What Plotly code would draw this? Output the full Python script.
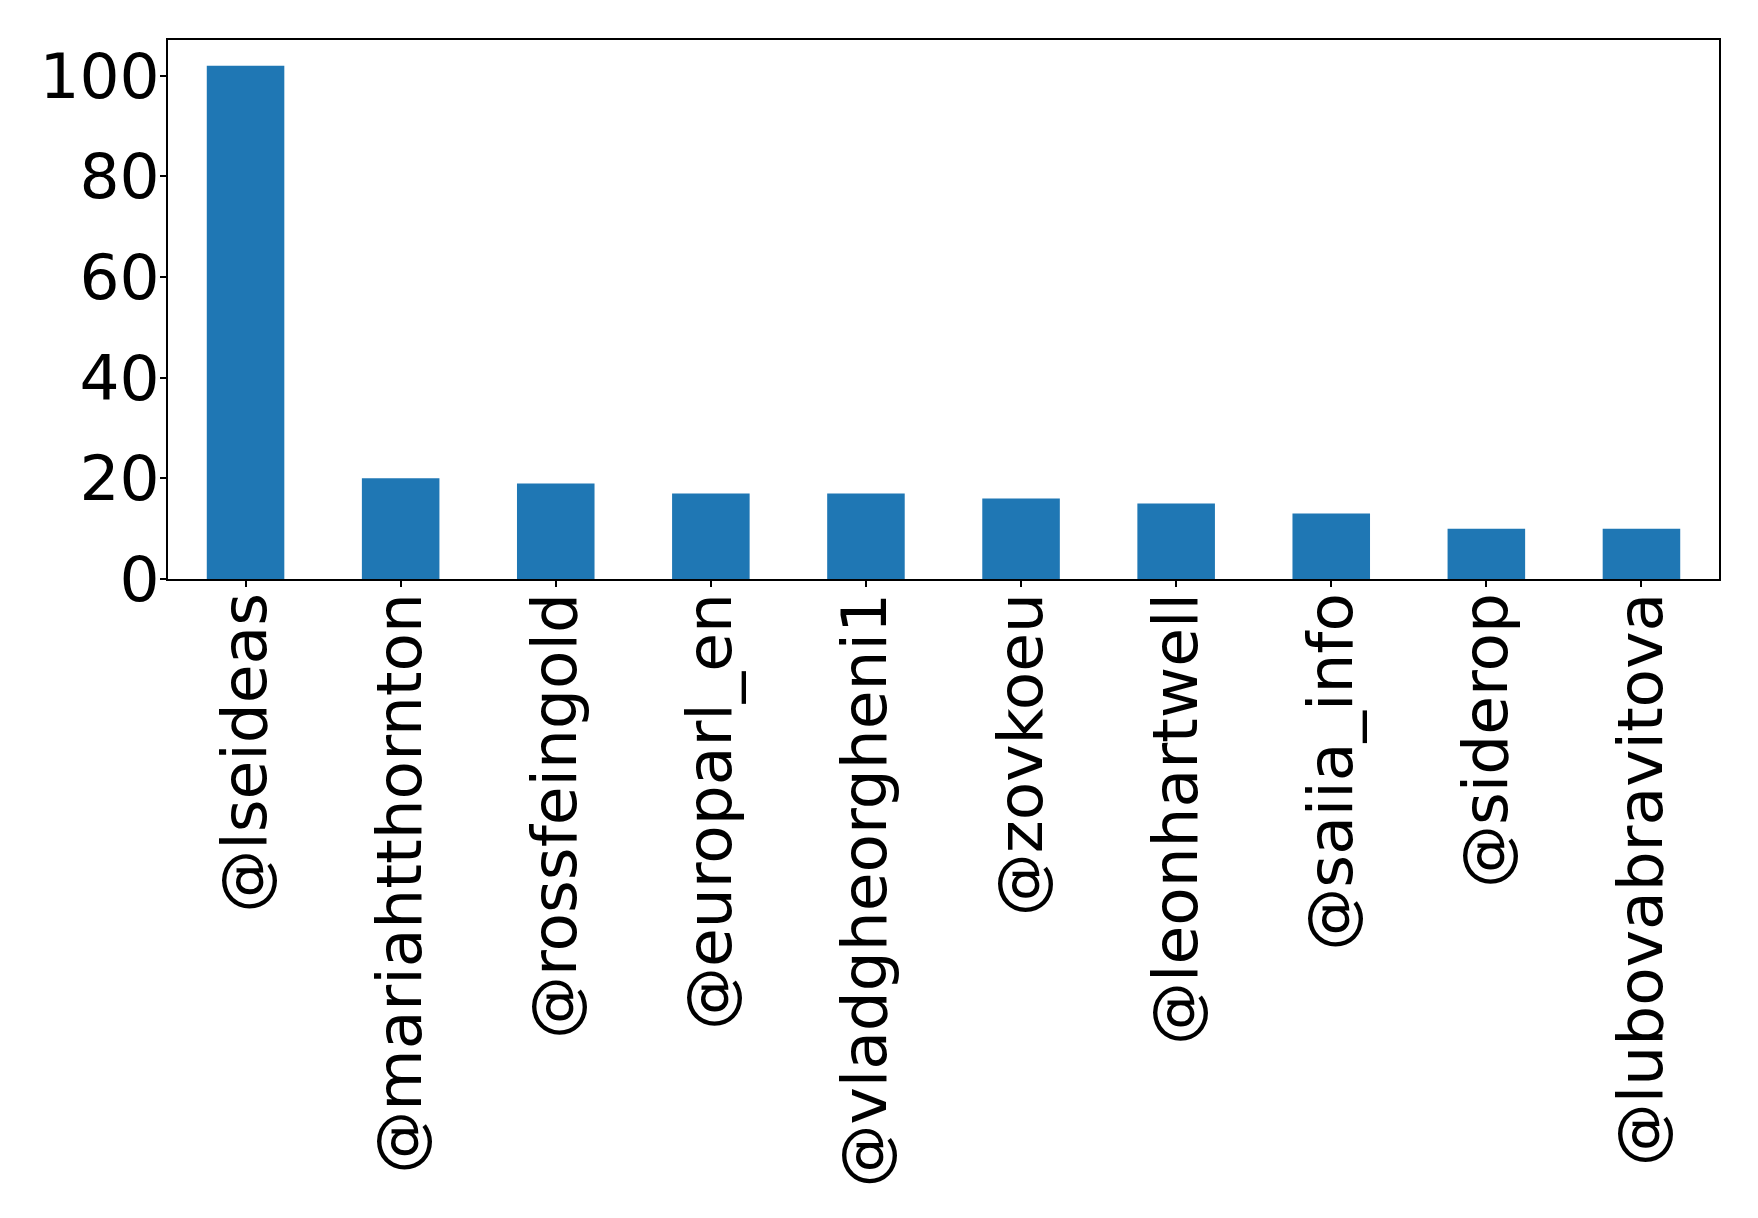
import plotly.graph_objects as go

# Top accounts by mention count
accounts = [
    "@lseideas", "@mariahtthornton", "@rossfeingold", "@europarl_en",
    "@vladgheorgheni1", "@zovkoeu", "@leonhartwell", "@saiia_info",
    "@siderop", "@lubovabravitova",
]
counts = [102, 20, 19, 17, 17, 16, 15, 13, 10, 10]
y_ticks = [0, 20, 40, 60, 80, 100]

fig = go.Figure(
    go.Bar(
        x=list(range(len(accounts))),
        y=counts,
        marker=dict(color="#1f77b4", line=dict(width=0)),
        width=0.5,
    )
)

axis_common = dict(
    showline=True,
    linecolor="black",
    linewidth=1.5,
    mirror=True,
    ticks="outside",
    ticklen=6,
    tickwidth=1.5,
    tickcolor="black",
    showgrid=False,
    zeroline=False,
    tickfont=dict(family="DejaVu Sans", size=63, color="black"),
)

fig.update_xaxes(
    range=[-0.5, len(accounts) - 0.5],
    tickmode="array",
    tickvals=list(range(len(accounts))),
    ticktext=accounts,
    tickangle=-90,
    ticklabelstandoff=-19,
    **axis_common,
)
fig.update_yaxes(
    range=[0, max(counts) * 1.05],
    tickmode="array",
    tickvals=y_ticks,
    ticktext=[str(v) for v in y_ticks],
    ticklabelstandoff=-12,
    **axis_common,
)

fig.update_layout(
    width=1758,
    height=1218,
    margin=dict(l=168, r=39, t=40, b=639, autoexpand=False),
    plot_bgcolor="white",
    paper_bgcolor="white",
    showlegend=False,
)

fig.write_html("out.html")
